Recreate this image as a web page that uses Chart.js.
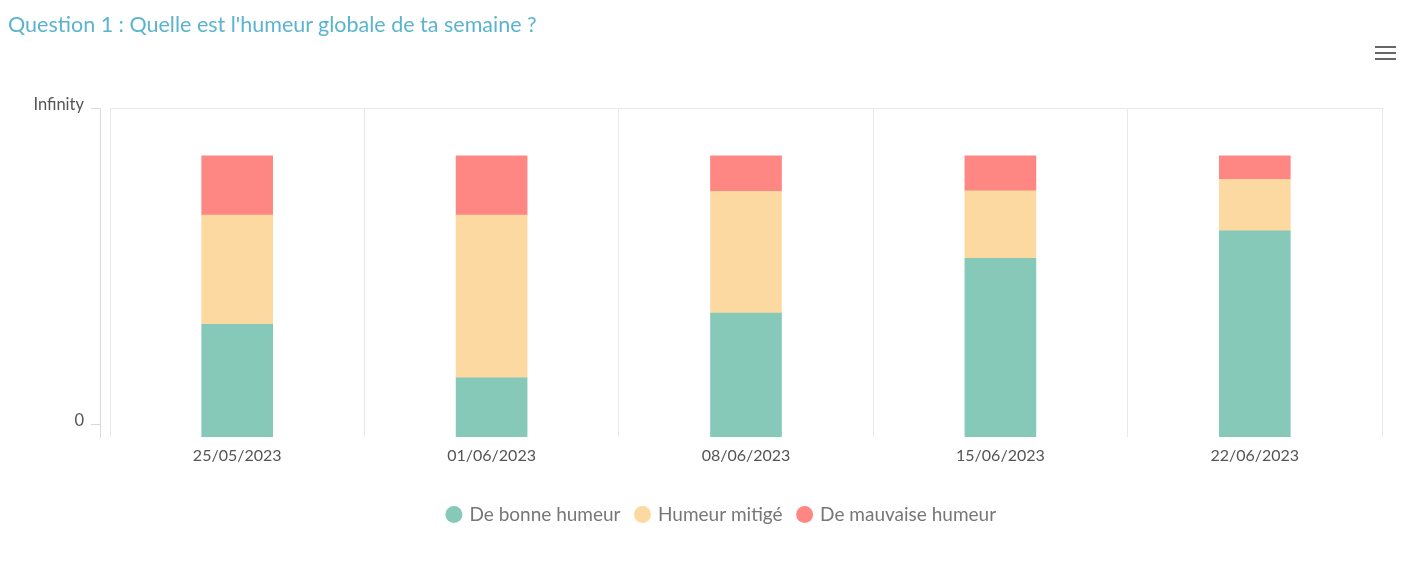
<!DOCTYPE html>
<html>
<head>
<meta charset="utf-8">
<script src="https://cdn.jsdelivr.net/npm/chart.js@4/dist/chart.umd.min.js"></script>
<style>
  html, body { margin: 0; padding: 0; background: #fff; }
  #wrap { position: relative; width: 1419px; height: 575px; overflow: hidden; }
  #title { position: absolute; left: 8px; top: 11px; font-family: Lato, sans-serif; font-size: 21.5px; color: #5ab4cd; white-space: nowrap; }
  #menu { position: absolute; left: 1375px; top: 46px; width: 21px; }
  #menu span { display: block; height: 2px; background: #666; margin-bottom: 4px; }
  canvas { position: absolute; left: 0; top: 0; }
</style>
</head>
<body>
<div id="wrap">
  <canvas id="c" width="1419" height="575"></canvas>
  <div id="title">Question 1 : Quelle est l'humeur globale de ta semaine ?</div>
  <div id="menu"><span></span><span></span><span></span></div>
</div>
<script>
const categories = ['25/05/2023', '01/06/2023', '08/06/2023', '15/06/2023', '22/06/2023'];
const seriesNames = ['De bonne humeur', 'Humeur mitigé', 'De mauvaise humeur'];
const bonneHumeur = [40.1, 21.0, 44.1, 63.5, 73.3];
const humeurMitigee = [38.8, 57.9, 43.3, 24.0, 18.3];
const mauvaiseHumeur = [21.1, 21.1, 12.6, 12.5, 8.4];
const yTickValues = [0, 1];
const yTickLabels = ['0', 'Infinity'];
const colors = ['#86c9b9', '#fdd9a2', '#fe8784'];
const yMax = 117;

new Chart(document.getElementById('c'), {
  type: 'bar',
  data: {
    labels: categories,
    datasets: [
      { label: seriesNames[0], data: bonneHumeur, backgroundColor: colors[0] },
      { label: seriesNames[1], data: humeurMitigee, backgroundColor: colors[1] },
      { label: seriesNames[2], data: mauvaiseHumeur, backgroundColor: colors[2] }
    ]
  },
  options: {
    responsive: false,
    animation: false,
    layout: { padding: { left: 25, right: 0, top: 108, bottom: 41 } },
    datasets: { bar: { barThickness: 71 } },
    plugins: {
      tooltip: { enabled: false },
      title: { display: false },
      legend: {
        position: 'bottom',
        labels: {
          usePointStyle: true,
          pointStyle: 'circle',
          boxWidth: 12,
          boxHeight: 12,
          padding: 16,
          color: '#777',
          font: { family: 'Lato', size: 19 }
        }
      }
    },
    scales: {
      x: {
        stacked: true,
        offset: true,
        grid: { offset: true, color: '#e8e8e8', drawTicks: false },
        border: { display: false },
        ticks: { color: '#555', padding: 9, font: { family: 'Lato', size: 16 } },
        afterFit: s => { s.height = 52; }
      },
      y: {
        stacked: true,
        min: 0,
        max: yMax,
        weight: 0,
        grid: { color: '#e8e8e8', drawTicks: false },
        border: { display: false },
        ticks: { display: false },
        afterBuildTicks: s => { s.ticks = [{ value: yMax }]; },
        afterFit: s => { s.width = 10; }
      },
      y2: {
        position: 'left',
        weight: 1,
        min: -0.041,
        max: 1,
        grid: { drawOnChartArea: false, color: '#d9d9d9', tickLength: 9 },
        border: { color: '#d9d9d9' },
        ticks: {
          color: '#555',
          padding: 7,
          labelOffset: -3,
          font: { family: 'Lato', size: 16.5 },
          callback: (v) => { const i = yTickValues.indexOf(v); return i >= 0 ? yTickLabels[i] : ''; }
        },
        afterBuildTicks: s => { s.ticks = yTickValues.map(v => ({ value: v })); },
        afterFit: s => { s.width = 75; }
      },
      yRight: {
        position: 'right',
        min: 0,
        max: 1,
        grid: { display: false },
        border: { display: false },
        ticks: { display: false },
        afterFit: s => { s.width = 37; }
      }
    }
  }
});
</script>
</body>
</html>
